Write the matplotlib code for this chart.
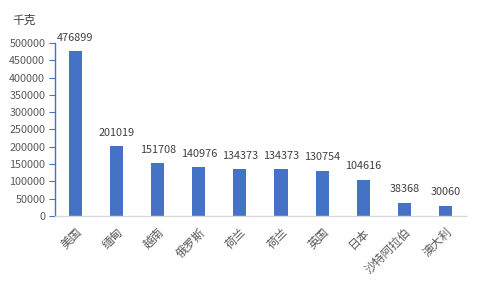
import matplotlib
matplotlib.use("Agg")
import matplotlib.pyplot as plt

plt.rcParams['font.family'] = ['Noto Sans CJK SC', 'DejaVu Sans']

countries = ["美国", "缅甸", "越南", "俄罗斯", "荷兰", "荷兰", "英国", "日本", "沙特阿拉伯", "澳大利"]
values = [476899, 201019, 151708, 140976, 134373, 134373, 130754, 104616, 38368, 30060]
yticks = list(range(0, 500001, 50000))

blue = "#4472C4"
text_color = "#595959"

fig = plt.figure(figsize=(4.8, 2.88), dpi=100)
ax = fig.add_axes([0.1146, 0.25, 0.856, 0.601])

x = range(len(countries))
ax.bar(x, values, width=0.32, color=blue, zorder=2)
for xi, v in zip(x, values):
    ax.text(xi, v + 24000, str(v), ha="center", va="bottom", fontsize=7.8,
            color="#404040", clip_on=False)

ax.set_xlim(-0.5, len(countries) - 0.5)
ax.set_ylim(0, 500000)
ax.set_yticks(yticks)
ax.set_yticklabels([str(t) for t in yticks], fontsize=7.8, color=text_color)
ax.set_xticks(list(x))
ax.set_xticklabels(countries, rotation=45, ha="right", rotation_mode="anchor",
                   fontsize=8.5, color=text_color)

for s in ["top", "right"]:
    ax.spines[s].set_visible(False)
ax.spines["left"].set_color(blue)
ax.spines["left"].set_linewidth(1.0)
ax.spines["bottom"].set_color("#D9D9D9")
ax.spines["bottom"].set_linewidth(1.0)
ax.tick_params(axis="y", direction="out", length=4, color=blue, pad=3)
ax.tick_params(axis="x", length=0, pad=7)

fig.text(12 / 480, 1 - 20 / 288, "千克", fontsize=8.5, color="#404040", va="center", ha="left")

fig.savefig("out.png", dpi=100)
